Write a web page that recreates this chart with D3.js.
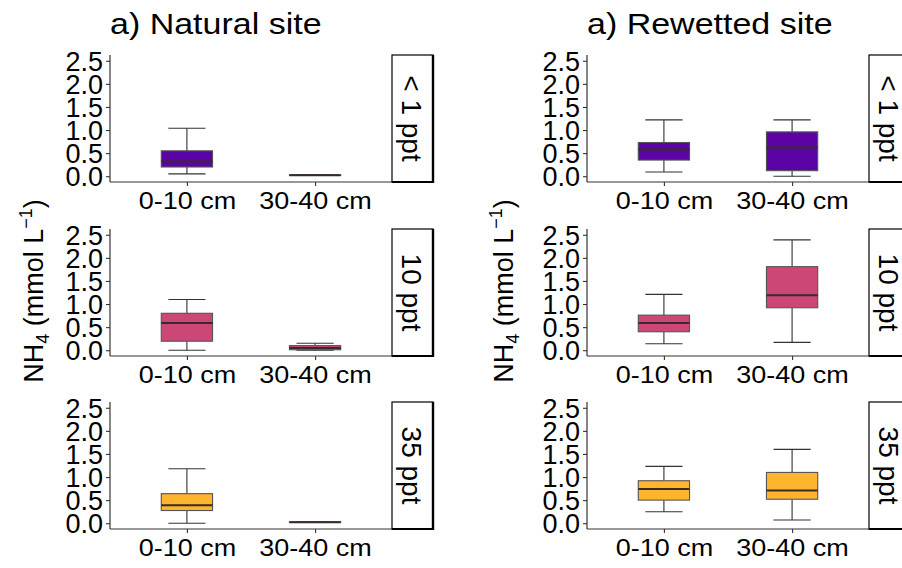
<!DOCTYPE html>
<html><head><meta charset="utf-8">
<script src="https://cdn.jsdelivr.net/npm/d3@7"></script>
<style>body{margin:0;background:#fff}svg{display:block}text{font-family:"Liberation Sans",Arial,sans-serif;fill:#000}</style>
</head><body><div id="chart"></div>
<script>
const depths = ["0-10 cm", "30-40 cm"];
const salinities = ["< 1 ppt", "10 ppt", "35 ppt"];
const siteTitles = ["a) Natural site", "a) Rewetted site"];
const yTicks = [0, 0.5, 1.0, 1.5, 2.0, 2.5];
const fillColors = ["#5b03a4", "#cc4778", "#fdb42f"];
// five-number summaries [lower whisker, Q1, median, Q3, upper whisker], per salinity, per depth
const naturalStats = [
  [[0.05, 0.20, 0.32, 0.55, 1.04], [0.02, 0.02, 0.02, 0.03, 0.03]],
  [[0.00, 0.195, 0.59, 0.80, 1.10], [0.00, 0.01, 0.05, 0.10, 0.15]],
  [[0.00, 0.275, 0.39, 0.64, 1.18], [0.02, 0.02, 0.02, 0.03, 0.03]]
];
const rewettedStats = [
  [[0.09, 0.35, 0.58, 0.73, 1.22], [0.00, 0.12, 0.62, 0.96, 1.22]],
  [[0.14, 0.40, 0.59, 0.76, 1.21], [0.17, 0.92, 1.19, 1.81, 2.39]],
  [[0.25, 0.50, 0.74, 0.92, 1.23], [0.07, 0.52, 0.71, 1.10, 1.60]]
];
const siteStats = [naturalStats, rewettedStats];

const W = 902, H = 568;
const svg = d3.select("#chart").append("svg").attr("width", W).attr("height", H);
const colX = [110, 587];
const rowY = [55, 229, 402];
const panelW = 282, panelH = 127, stripW = 41;
const font = '"Liberation Sans",Arial,sans-serif';

function txt(g, x, y, s, size, anchor, sy, rot) {
  const t = g.append("text")
    .attr("transform", `translate(${x},${y}) rotate(${rot || 0}) scale(1,${sy || 1})`)
    .attr("font-size", size).attr("text-anchor", anchor || "start").text(s);
  return t;
}

siteStats.forEach((stats, c) => {
  const x0 = colX[c];
  const g0 = svg.append("g");
  txt(g0, x0, 34, siteTitles[c], 34, "start", 0.88);
  // y label
  const yl = g0.append("text")
    .attr("transform", `translate(${c === 0 ? 43 : 513},291) rotate(-90)`)
    .attr("font-size", 27).attr("text-anchor", "middle");
  yl.append("tspan").text("NH");
  yl.append("tspan").attr("font-size", 18).attr("dy", 6).text("4");
  yl.append("tspan").attr("dy", -6).text(" (mmol L");
  yl.append("tspan").attr("font-size", 18).attr("dy", -11).text("\u22121");
  yl.append("tspan").attr("dy", 11).text(")");

  stats.forEach((rows, r) => {
    const top = rowY[r], bottom = top + panelH;
    const g = svg.append("g");
    const y = d3.scaleLinear().domain([-0.125, 2.625]).range([bottom, top]);
    const x = d3.scalePoint().domain(depths).range([x0, x0 + panelW]).padding(0.6);
    const step = x.step();
    const bw = 0.4 * step, cw = 0.29 * step;

    rows.forEach((s, i) => {
      const cx = x(depths[i]);
      const [lo, q1, md, q3, hi] = s;
      g.append("line").attr("x1", cx).attr("x2", cx).attr("y1", y(hi)).attr("y2", y(q3))
        .attr("stroke", "#333").attr("stroke-width", 1.1);
      g.append("line").attr("x1", cx).attr("x2", cx).attr("y1", y(q1)).attr("y2", y(lo))
        .attr("stroke", "#333").attr("stroke-width", 1.1);
      g.append("line").attr("x1", cx - cw / 2).attr("x2", cx + cw / 2).attr("y1", y(hi)).attr("y2", y(hi))
        .attr("stroke", "#333").attr("stroke-width", 1.1);
      g.append("line").attr("x1", cx - cw / 2).attr("x2", cx + cw / 2).attr("y1", y(lo)).attr("y2", y(lo))
        .attr("stroke", "#333").attr("stroke-width", 1.1);
      g.append("rect").attr("x", cx - bw / 2).attr("width", bw)
        .attr("y", y(q3)).attr("height", Math.max(0.5, y(q1) - y(q3)))
        .attr("fill", fillColors[r]).attr("stroke", "#555").attr("stroke-width", 1.1);
      g.append("line").attr("x1", cx - bw / 2).attr("x2", cx + bw / 2).attr("y1", y(md)).attr("y2", y(md))
        .attr("stroke", "#3a2a2a").attr("stroke-width", 2);
    });

    // axes
    const ya = g.append("g").attr("transform", `translate(${x0},0)`)
      .call(d3.axisLeft(y).tickValues(yTicks).tickFormat(d3.format(".1f")).tickSize(4).tickPadding(3));
    const xa = g.append("g").attr("transform", `translate(0,${bottom})`)
      .call(d3.axisBottom(x).tickSize(4).tickPadding(8));
    [ya, xa].forEach(a => {
      a.select(".domain").attr("stroke", "#333").attr("stroke-width", 1.2);
      a.selectAll(".tick line").attr("stroke", "#333").attr("stroke-width", 1.1);
      a.selectAll("text").attr("font-family", font).attr("fill", "#000");
    });
    ya.select(".domain").attr("d", `M0,${bottom}V${top}`);
    xa.select(".domain").attr("d", `M${x0},0H${x0 + panelW}`);
    ya.selectAll("text").attr("font-size", 27).attr("dy", "0.36em");
    xa.selectAll("text").attr("font-size", 27).attr("dy", "0.71em")
      .attr("transform", "scale(1,0.88)");

    // strip
    const sx = x0 + panelW;
    g.append("rect").attr("x", sx).attr("y", top).attr("width", stripW).attr("height", panelH)
      .attr("fill", "#fff").attr("stroke", "#000").attr("stroke-width", 1.2);
    g.append("line").attr("x1", sx + stripW).attr("x2", sx + stripW).attr("y1", top).attr("y2", bottom + 1)
      .attr("stroke", "#000").attr("stroke-width", 2.4);
    g.append("line").attr("x1", sx).attr("x2", sx + stripW + 1).attr("y1", bottom).attr("y2", bottom)
      .attr("stroke", "#000").attr("stroke-width", 2.2);
    g.append("text")
      .attr("transform", `translate(${sx + stripW / 2 - 11},${top + panelH / 2}) rotate(90)`)
      .attr("font-size", 28).attr("text-anchor", "middle").text(salinities[r]);
  });
});
</script></body></html>
